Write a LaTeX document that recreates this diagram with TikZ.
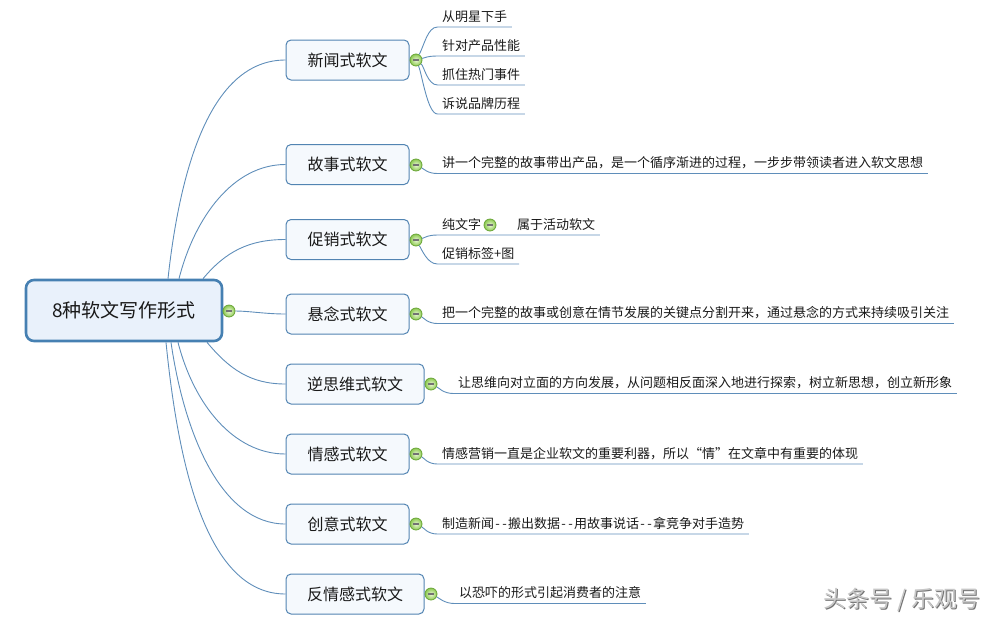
\documentclass[tikz,border=0pt]{standalone}
\usepackage{fontspec}
\setmainfont{Noto Sans CJK SC}
\definecolor{connc}{RGB}{95,142,186}
\definecolor{boxb}{RGB}{82,132,178}
\definecolor{boxf}{RGB}{245,249,253}
\definecolor{rootb}{RGB}{70,128,178}
\definecolor{rootf}{RGB}{233,241,251}
\definecolor{txt}{RGB}{25,25,25}
\definecolor{minb}{RGB}{105,165,55}
\definecolor{minin}{RGB}{235,250,215}
\definecolor{minout}{RGB}{140,200,80}
\newcommand{\hy}{\makebox[7pt]{-}}
\begin{document}
\begin{tikzpicture}[x=1pt,y=-1pt,
  rootbox/.style={draw=rootb, fill=rootf, line width=2.6pt, rounded corners=8pt,
    minimum width=196pt, minimum height=61pt, font=\fontsize{19}{19}\selectfont, text=txt},
  lvl/.style={draw=boxb, fill=boxf, line width=1pt, rounded corners=5pt,
    minimum width=123pt, minimum height=40pt, font=\fontsize{16}{16}\selectfont, text=txt},
  leaf/.style={anchor=south west, inner xsep=4.5pt, inner ysep=0pt, text height=11pt,
    text depth=5.5pt, font=\fontsize{13}{13}\selectfont, text=txt},
  minusc/.style={circle, draw=minb, line width=0.8pt, inner sep=0pt, minimum size=12pt,
    inner color=minin, outer color=minout,
    path picture={\draw[line width=1.1pt, draw=black!55]
      ([xshift=-3pt]path picture bounding box.center) -- ([xshift=3pt]path picture bounding box.center);}},
  conn/.style={draw=connc, line width=0.9pt},
  wmark/.style={font=\fontsize{23}{23}\selectfont}
]
\useasboundingbox (0,0) rectangle (998,619);

% root and main topics
\node[rootbox] (root) at (124,310.5) {8种软文写作形式};
\node[lvl] (n1) at (347.5,60) {新闻式软文};
\node[lvl] (n2) at (347.5,164.5) {故事式软文};
\node[lvl] (n3) at (347.5,239.5) {促销式软文};
\node[lvl] (n4) at (347.5,314) {悬念式软文};
\node[lvl, minimum width=138pt] (n5) at (355,384) {逆思维式软文};
\node[lvl] (n6) at (347.5,454) {情感式软文};
\node[lvl] (n7) at (347.5,524) {创意式软文};
\node[lvl, minimum width=138pt] (n8) at (355,594) {反情感式软文};

% leaves
\node[leaf] (c11) at (437.5,27) {从明星下手};
\node[leaf] (c12) at (437.5,56) {针对产品性能};
\node[leaf] (c13) at (437.5,85) {抓住热门事件};
\node[leaf] (c14) at (437.5,114) {诉说品牌历程};
\node[leaf] (c21) at (437.5,173.5) {讲一个完整的故事带出产品，是一个循序渐进的过程，一步步带领读者进入软文思想};
\node[leaf] (c31) at (437.5,235) {纯文字};
\node[leaf] (c32) at (512.5,235) {属于活动软文};
\node[leaf] (c33) at (437.5,264) {促销标签+图};
\node[leaf] (c41) at (437.5,323.5) {把一个完整的故事或创意在情节发展的关键点分割开来，通过悬念的方式来持续吸引关注};
\node[leaf] (c51) at (453.5,393.5) {让思维向对立面的方向发展，从问题相反面深入地进行探索，树立新思想，创立新形象};
\node[leaf] (c61) at (437.5,464) {情感营销一直是企业软文的重要利器，所以“情”在文章中有重要的体现};
\node[leaf] (c71) at (437.5,534) {制造新闻\hy\hy 搬出数据\hy\hy 用故事说话\hy\hy 拿竞争对手造势};
\node[leaf] (c81) at (454.5,603.5) {以恐吓的形式引起消费者的注意};

% root connectors
\draw[conn] ([xshift=44pt]root.north) .. controls +(12,-110) and +(-75,0) .. (n1.west);
\draw[conn] ([xshift=55pt]root.north) .. controls +(15.8,-62) and +(-52,0) .. (n2.west);
\draw[conn] ([xshift=79pt]root.north) .. controls +(23,-27.6) and +(-36,0) .. (n3.west);
\draw[conn] ([xshift=83pt]root.south) .. controls +(22.5,27) and +(-35,0) .. (n5.west);
\draw[conn] ([xshift=54pt]root.south) .. controls +(15.8,62) and +(-52,0) .. (n6.west);
\draw[conn] ([xshift=47pt]root.south) .. controls +(13,90) and +(-65,0) .. (n7.west);
\draw[conn] ([xshift=42pt]root.south) .. controls +(12,120) and +(-80,0) .. (n8.west);

% collapse markers
\node[minusc] (m0) at (229,311) {};
\node[minusc] (m1) at (416,60) {};
\node[minusc] (m2) at (416,165) {};
\node[minusc] (m3) at (416,240) {};
\node[minusc] (m4) at (416,314) {};
\node[minusc] (m5) at (431,384) {};
\node[minusc] (m6) at (416,454) {};
\node[minusc] (m7) at (416,524) {};
\node[minusc] (m8) at (431,594) {};
\node[minusc] (m31) at (490,225) {};

\draw[conn] (m0) .. controls +(20,0) and +(-20,0) .. (n4.west);

% marker to leaf connectors and underlines
\draw[conn] (m1) .. controls +(8,-14) and +(-10,0) .. (c11.south west) -- (c11.south east);
\draw[conn] (m1) .. controls +(8,-2) and +(-10,0) .. (c12.south west) -- (c12.south east);
\draw[conn] (m1) .. controls +(8,6) and +(-10,0) .. (c13.south west) -- (c13.south east);
\draw[conn] (m1) .. controls +(6,14) and +(-10,0) .. (c14.south west) -- (c14.south east);
\draw[conn] (m2) .. controls +(8,4) and +(-10,0) .. (c21.south west) -- (c21.south east);
\draw[conn] (m3) .. controls +(8,-2) and +(-10,0) .. (c31.south west) -- (c32.south east);
\draw[conn] (m3) .. controls +(6,10) and +(-10,0) .. (c33.south west) -- (c33.south east);
\draw[conn] (m4) .. controls +(8,4) and +(-10,0) .. (c41.south west) -- (c41.south east);
\draw[conn] (m5) .. controls +(8,4) and +(-10,0) .. (c51.south west) -- (c51.south east);
\draw[conn] (m6) .. controls +(8,4) and +(-10,0) .. (c61.south west) -- (c61.south east);
\draw[conn] (m7) .. controls +(8,4) and +(-10,0) .. (c71.south west) -- (c71.south east);
\draw[conn] (m8) .. controls +(8,4) and +(-10,0) .. (c81.south west) -- (c81.south east);

% watermark
\node[wmark, text=black!55] (wmsh) at (902.8,600.8) {头条号 / 乐观号};
\node[wmark, text=black!22] (wm) at (902,600) {头条号 / 乐观号};
\end{tikzpicture}
\end{document}
